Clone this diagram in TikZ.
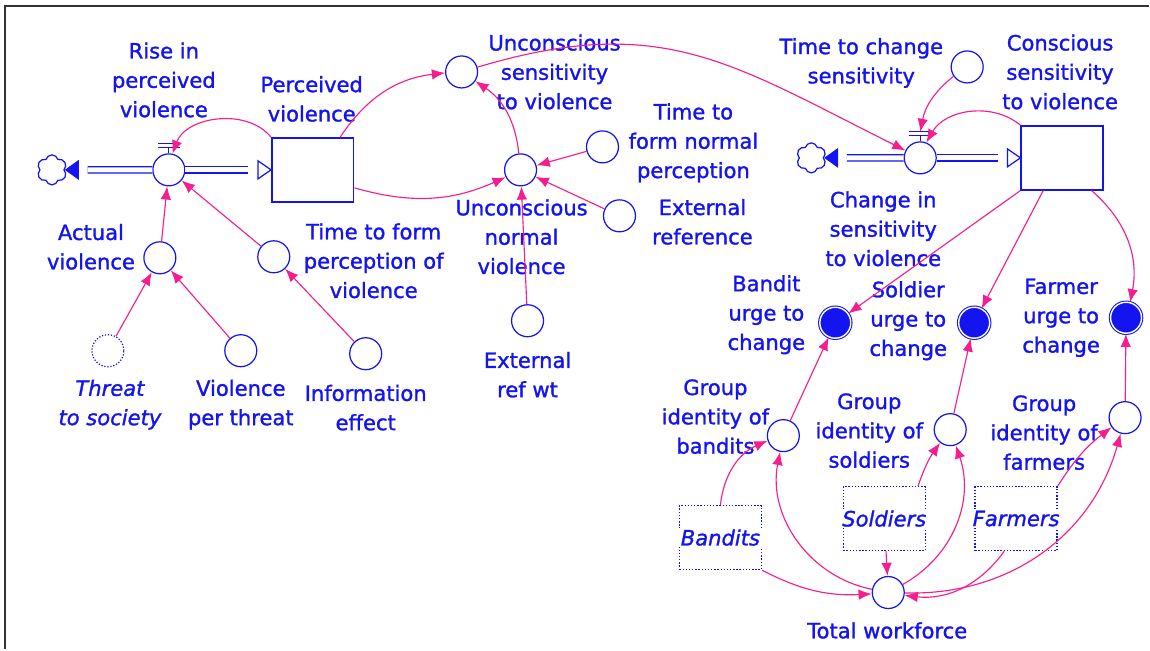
\documentclass[tikz,border=0pt]{standalone}
\usepackage{fontspec}
\newfontfamily\diafont[FakeBold=1.3]{DejaVu Sans}
\usetikzlibrary{arrows.meta,shapes.symbols,calc}
\definecolor{vblue}{RGB}{20,20,240}
\definecolor{lpink}{RGB}{245,30,140}

\begin{document}
\begin{tikzpicture}[x=0.02cm, y=-0.02cm,
  aux/.style     ={circle, draw=vblue, line width=0.7pt, minimum size=0.64cm, inner sep=0pt},
  shadowaux/.style={aux, densely dotted},
  valve/.style   ={aux},
  urge/.style    ={circle, draw=vblue, fill=vblue, double=white, double distance=0.8pt,
                   line width=0.6pt, minimum size=0.62cm, inner sep=0pt},
  stock/.style   ={rectangle, draw=vblue, line width=0.85pt, minimum width=1.64cm,
                   minimum height=1.28cm, inner sep=0pt},
  shadowstock/.style={stock, line width=0.8pt, densely dotted},
  srcsink/.style ={cloud, cloud puffs=6, draw=vblue, line width=0.7pt, minimum size=0.6cm,
                   inner sep=0pt, aspect=1},
  lbl/.style     ={text=vblue, align=center, inner sep=0pt,
                   font=\diafont\fontsize{12}{16.7}\selectfont},
  ilbl/.style    ={lbl, font=\diafont\itshape\fontsize{12}{16.7}\selectfont},
  link/.style    ={draw=lpink, line width=0.65pt, -{Latex[length=7.5pt,width=6pt]}},
  pipe/.style    ={draw=vblue, line width=0.8pt, double=white, double distance=2.8pt}
]
% frame
\draw[line width=1.1pt, black!80] (5,650) -- (5,6) -- (1150,6);
\useasboundingbox (0,0) rectangle (1150,650);

%%% ---- PERCEIVED VIOLENCE (left) ---------------------------------------
\node[srcsink] (cl1)  at (52,170)  {};
\node[valve]   (rise) at (169,170) {};
\node[stock]   (pv)   at (313,170) {};
\node[aux]     (av)   at (160,258) {};
\node[aux]     (ttf)  at (274,257) {};
\node[shadowaux] (tos) at (108,351) {};
\node[aux]     (vpt)  at (241,351) {};
\node[aux]     (ie)   at (366,354) {};

\node[lbl]  (lRise) at (164,80)  {Rise in\\perceived\\violence};
\node[lbl]  (lPV)   at (312,99)  {Perceived\\violence};
\node[lbl]  (lAV)   at (91,247)  {Actual\\violence};
\node[lbl]  (lTTF)  at (374,261) {Time to form\\perception of\\violence};
\node[ilbl] (lTOS)  at (110,405) {Threat\\to society};
\node[lbl]  (lVPT)  at (241,405) {Violence\\per threat};
\node[lbl]  (lIE)   at (366,408) {Information\\effect};

% flow pipes + valve handle
\draw[pipe, shorten >=13] (rise) -- (cl1);
\fill[vblue] (cl1.east) -- ++(14,-10) -- ++(0,20) -- cycle;
\draw[pipe, shorten >=13] (rise) -- (pv.west);
\draw[vblue, line width=0.7pt, fill=white] (pv.west) -- ++(-13,-9) -- ++(0,18) -- cycle;
\draw[vblue, line width=0.7pt] (rise.north) -- ++(0,-6) ++(-11,0) -- ++(22,0) ++(0,-4) -- ++(-22,0);

\draw[link] (tos) -- (av);
\draw[link] (vpt) -- (av);
\draw[link] (av) -- (rise);
\draw[link] (ttf) -- (rise);
\draw[link] (ie) -- (ttf);
\draw[link] (pv.north west) to[bend right=60] (rise);

%%% ---- UNCONSCIOUS SENSITIVITY (middle) --------------------------------
\node[aux] (us)  at (462,72)  {};
\node[aux] (unv) at (521,170) {};
\node[aux] (tfn) at (603,147) {};
\node[aux] (er)  at (620,216) {};
\node[aux] (erw) at (528,321) {};

\node[lbl] (lUS)  at (555,72)  {Unconscious\\sensitivity\\to violence};
\node[lbl] (lUNV) at (522,237) {Unconscious\\normal\\violence};
\node[lbl] (lTFN) at (694,143) {Time to\\form normal\\perception};
\node[lbl] (lER)  at (703,222) {External\\reference};
\node[lbl] (lERW) at (528,375) {External\\ref wt};

\draw[link] (pv.50) to[bend left=25] (us);
\draw[link] (pv.east) ++(0,18) to[bend right=20] (unv);
\draw[link] (unv) to[bend right=25] (us);
\draw[link] (tfn) -- (unv);
\draw[link] (er) -- (unv);
\draw[link] (erw) -- (unv);

%%% ---- CONSCIOUS SENSITIVITY (right) -----------------------------------
\node[srcsink] (cl2) at (812,158)  {};
\node[valve]   (cv)  at (921,158)  {};
\node[stock]   (csv) at (1063,158) {};
\node[aux]     (tcs) at (968,67)   {};
\coordinate (cvH) at (921,132);

\node[lbl] (lTCS) at (862,63)  {Time to change\\sensitivity};
\node[lbl] (lCSV) at (1061,72) {Conscious\\sensitivity\\to violence};
\node[lbl] (lCV)  at (884,229) {Change in\\sensitivity\\to violence};

\draw[pipe, shorten >=13] (cv) -- (cl2);
\fill[vblue] (cl2.east) -- ++(14,-10) -- ++(0,20) -- cycle;
\draw[pipe, shorten >=13] (cv) -- (csv.west);
\draw[vblue, line width=0.7pt, fill=white] (csv.west) -- ++(-13,-9) -- ++(0,18) -- cycle;
\draw[vblue, line width=0.7pt] (cv.north) -- ++(0,-6) ++(-11,0) -- ++(22,0) ++(0,-4) -- ++(-22,0);

\draw[link] (us) .. controls +(200,-60) and +(-190,-95) .. (cv);
\draw[link] (tcs) to[bend right=20] (cvH);
\draw[link] (csv.north west) to[bend right=50] (cv);

%%% ---- URGES AND GROUP IDENTITY ----------------------------------------
\node[urge] (bu) at (836,323)  {};
\node[urge] (su) at (975,323)  {};
\node[urge] (fu) at (1127,318) {};
\node[aux] (gib) at (784,436)  {};
\node[aux] (gis) at (951,430)  {};
\node[aux] (gif) at (1126,418) {};
\node[shadowstock] (bnd) at (721,538)  {};
\node[shadowstock] (sol) at (885,519)  {};
\node[shadowstock] (frm) at (1017,519) {};
\node[aux] (tw) at (889,593) {};

\node[lbl]  (lBU)  at (767,315)  {Bandit\\urge to\\change};
\node[lbl]  (lSU)  at (909,321)  {Soldier\\urge to\\change};
\node[lbl]  (lFU)  at (1062,318) {Farmer\\urge to\\change};
\node[lbl]  (lGIB) at (716,417)  {Group\\identity of\\bandits};
\node[lbl]  (lGIS) at (870,431)  {Group\\identity of\\soldiers};
\node[lbl]  (lGIF) at (1045,433) {Group\\identity of\\farmers};
\node[ilbl, fill=white, inner sep=1pt] (lBND) at (721,538)  {Bandits};
\node[ilbl, fill=white, inner sep=1pt] (lSOL) at (885,519)  {Soldiers};
\node[ilbl, fill=white, inner sep=1pt] (lFRM) at (1017,519) {Farmers};
\node[lbl]  (lTW)  at (888,631)  {Total workforce};

\draw[link] (csv.south west) -- (bu);
\draw[link] (csv.240) -- (su);
\draw[link] (csv.312) to[bend left=30] (fu);
\draw[link] (gib) -- (bu);
\draw[link] (gis) -- (su);
\draw[link] (gif) -- (fu);

\draw[link] (bnd.north) to[bend left=30] (gib);
\draw[link] (sol.44) to[bend left=8] (gis);
\draw[link] (frm.north east) to[bend left=10] (gif);

\draw[link] (bnd.south east) to[bend right=15] (tw);
\draw[link] (sol) -- (tw);
\draw[link] (frm.250) to[bend left=30] (tw);

\draw[link] (tw) to[bend left=45] (gib);
\draw[link] (tw) to[bend right=40] (gis);
\draw[link] (tw) to[bend right=38] (gif);

\end{tikzpicture}
\end{document}
